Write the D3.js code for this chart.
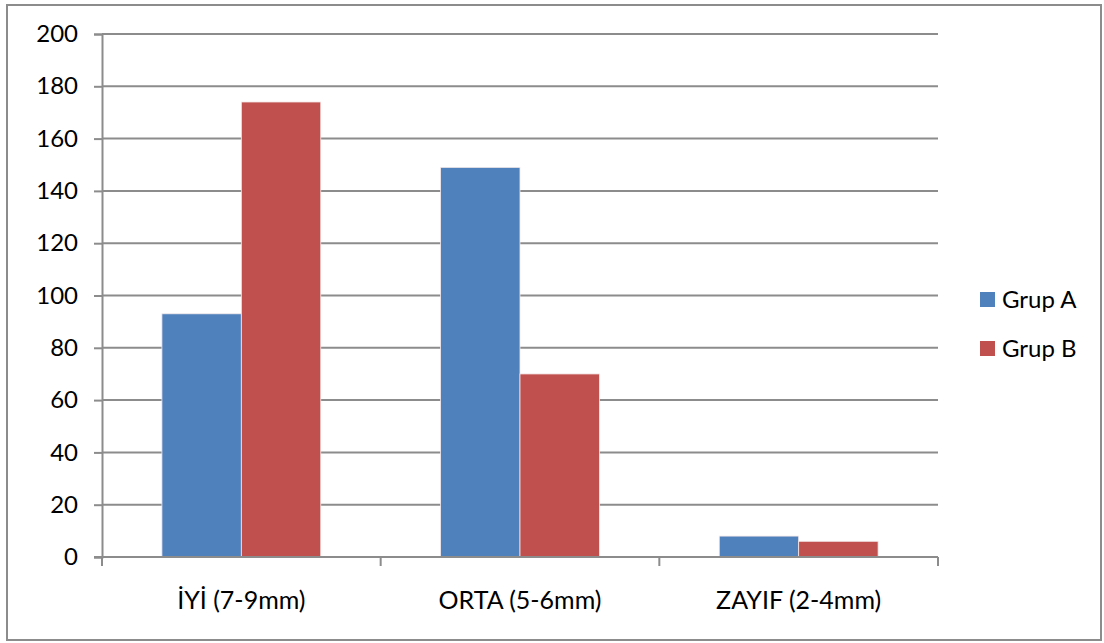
<!DOCTYPE html>
<html>
<head>
<meta charset="utf-8">
<script src="https://cdn.jsdelivr.net/npm/d3@7"></script>
<style>
  html, body { margin: 0; padding: 0; background: #fff; }
  svg { display: block; }
  text { font-family: Lato, "Open Sans", sans-serif; fill: #000; }
</style>
</head>
<body>
<svg id="chart" width="1104" height="643"></svg>
<script>
// Categories (quality classes) and counts per group
const categories = ["İYİ (7-9mm)", "ORTA (5-6mm)", "ZAYIF (2-4mm)"];
const seriesNames = ["Grup A", "Grup B"];
const grupA = [93, 149, 8];
const grupB = [174, 70, 6];
const yTicks = [0, 20, 40, 60, 80, 100, 120, 140, 160, 180, 200];
const colors = ["#4F81BD", "#C0504D"];

const values = [grupA, grupB];
const rows = categories.map((c, i) => ({
  category: c,
  bars: seriesNames.map((s, j) => ({ series: s, value: values[j][i], color: colors[j] }))
}));

const svg = d3.select("#chart");
const W = 1104, H = 643;
const plot = { left: 102, right: 938, top: 34, bottom: 557 };

// Outer frame
svg.append("rect")
  .attr("x", 7).attr("y", 5)
  .attr("width", W - 10).attr("height", H - 8)
  .attr("fill", "#fff")
  .attr("stroke", "#8c8c8c").attr("stroke-width", 2);

const y = d3.scaleLinear().domain([0, 200]).range([plot.bottom, plot.top]);
const x0 = d3.scaleBand().domain(categories).range([plot.left, plot.right]).padding(0);
const bw = x0.bandwidth();
const x1 = d3.scaleBand().domain(seriesNames).range([bw * 0.215, bw * 0.785]).padding(0);

// Horizontal gridlines with tick marks on the left
const yAxis = d3.axisLeft(y).tickValues(yTicks).tickSize(8).tickPadding(16);
const gy = svg.append("g").attr("transform", `translate(${plot.left},0)`).call(yAxis);
gy.select(".domain").attr("stroke", "#8c8c8c").attr("stroke-width", 2);
gy.selectAll(".tick line").attr("stroke", "#8c8c8c").attr("stroke-width", 2);
gy.selectAll(".tick text").style("font-size", "24px").attr("fill", "#000");

svg.append("g").selectAll("line").data(yTicks.filter(t => t > 0)).join("line")
  .attr("x1", plot.left).attr("x2", plot.right)
  .attr("y1", d => y(d)).attr("y2", d => y(d))
  .attr("stroke", "#8c8c8c").attr("stroke-width", 2);

// Bars
const groups = svg.append("g").selectAll("g").data(rows).join("g")
  .attr("transform", d => `translate(${x0(d.category)},0)`);
groups.selectAll("rect").data(d => d.bars).join("rect")
  .attr("x", d => x1(d.series))
  .attr("y", d => y(d.value))
  .attr("width", x1.bandwidth())
  .attr("height", d => y(0) - y(d.value))
  .attr("fill", d => d.color)
  .attr("stroke", "#f4e9e9").attr("stroke-width", 0.8);

// Category axis
const xAxis = d3.axisBottom(x0).tickSize(0).tickPadding(34);
const gx = svg.append("g").attr("transform", `translate(0,${plot.bottom})`).call(xAxis);
gx.select(".domain").remove();
gx.selectAll(".tick text").style("font-size", "25px").attr("fill", "#000");
svg.append("line")
  .attr("x1", plot.left - 8).attr("x2", plot.right)
  .attr("y1", plot.bottom).attr("y2", plot.bottom)
  .attr("stroke", "#8c8c8c").attr("stroke-width", 2);
const boundaries = categories.map(c => x0(c)).concat([plot.right]);
svg.append("g").selectAll("line").data(boundaries).join("line")
  .attr("x1", d => d).attr("x2", d => d)
  .attr("y1", plot.bottom).attr("y2", plot.bottom + 9)
  .attr("stroke", "#8c8c8c").attr("stroke-width", 2);

// Legend
const legend = svg.append("g").attr("transform", "translate(980,292)");
const li = legend.selectAll("g").data(seriesNames).join("g")
  .attr("transform", (d, i) => `translate(0,${i * 49})`);
li.append("rect").attr("width", 15).attr("height", 15)
  .attr("fill", (d, i) => colors[i]);
li.append("text").attr("x", 22).attr("y", 16)
  .style("font-size", "24px").text(d => d);
</script>
</body>
</html>
